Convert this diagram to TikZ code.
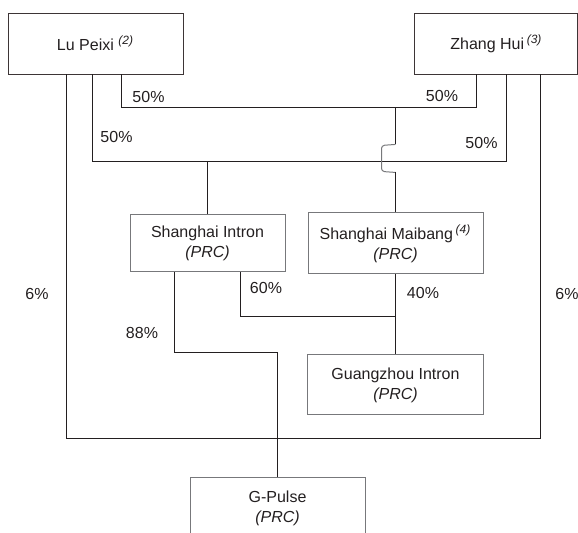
\documentclass[tikz,border=0pt]{standalone}
\usepackage{fontspec}
\setmainfont{Liberation Sans}
\usetikzlibrary{positioning}

\definecolor{linecol}{HTML}{231F20}
\definecolor{topcol}{HTML}{3D3536}
\definecolor{boxcol}{HTML}{77787B}
\definecolor{textcol}{HTML}{231F20}

\begin{document}
\begin{tikzpicture}[
        x=0.5pt, y=-0.5pt,
        owner_node/.style={draw=topcol, rectangle, minimum height=30.5pt, align=center, inner sep=0pt, line width=0.45pt, text=textcol, font=\fontsize{8}{10}\selectfont},
        company_node/.style={draw=boxcol, rectangle, minimum height=30.5pt, align=center, inner sep=0pt, line width=0.5pt, text=textcol, font=\fontsize{8}{10}\selectfont},
        link/.style={draw=linecol, line width=0.45pt},
        hop/.style={draw=boxcol, line width=0.5pt},
        pct/.style={font=\fontsize{8}{10}\selectfont, text=textcol}
    ]
        \useasboundingbox (0,0) rectangle (578,533);

        % Nodes
        \node (lupeixi) [owner_node, minimum width=87.5pt] at (95.5,43.5) {Lu Peixi \textsuperscript{\itshape (2)}};
        \node (zhanghui) [owner_node, minimum width=81.5pt, right=115.5pt of lupeixi] {Zhang Hui\,\textsuperscript{\itshape (3)}};
        \node (intron) [company_node, minimum width=77.5pt, minimum height=28.5pt] at (207.5,243.5) {Shanghai Intron\\\itshape (PRC)};
        \node (maibang) [company_node, minimum width=87.5pt, right=11pt of intron] {Shanghai Maibang\,\textsuperscript{\itshape (4)}\\\itshape (PRC)};
        \node (guangzhou) [company_node, minimum width=88pt, minimum height=30pt, below=40pt of maibang] {Guangzhou Intron\\\itshape (PRC)};
        \node (gpulse) [company_node, minimum width=87.5pt] at (277.5,508.5) {G-Pulse\\\itshape (PRC)};

        % Lines
        \draw [link] ([xshift=-14.75pt]lupeixi.south) -- ++(0,364) -| ([xshift=22pt]zhanghui.south);
        \draw [link] ([xshift=12.75pt]lupeixi.south) -- ++(0,33) coordinate (upbar) -| ([xshift=-9.75pt]zhanghui.south);
        \draw [link] ([xshift=-1.75pt]lupeixi.south) -- ++(0,87) coordinate (lowbar) -| ([xshift=5.25pt]zhanghui.south);
        \draw [link] (intron.north) -- (intron.north |- lowbar);
        \draw [link] (maibang.north |- upbar) -- ++(0,37) coordinate (hoptop);
        \draw [hop, rounded corners=1.5pt] (hoptop) -- ++(-14,1) -- ++(0,26) -- ++(14,1);
        \draw [link] ([yshift=-14pt]hoptop) -- (maibang.north);
        \draw [link] ([xshift=-16.75pt]intron.south) -- ++(0,80) -| (gpulse.north);
        \draw [link] ([xshift=16.25pt]intron.south) -- ++(0,44) coordinate (midbar) -- (maibang.south |- midbar);
        \draw [link] (maibang.south) -- (guangzhou.north);

        % Percentages
        \node (lu_up) [pct] at (148.5,97) {50\%};
        \node (lu_low) [pct] at (116.5,137) {50\%};
        \node (zh_up) [pct] at (442,96) {50\%};
        \node (zh_low) [pct] at (481.5,143) {50\%};
        \node (lu_g) [pct] at (37,294) {6\%};
        \node (zh_g) [pct] at (567,294) {6\%};
        \node (in_g) [pct] at (142,333) {88\%};
        \node (in_gz) [pct] at (266,288) {60\%};
        \node (mb_gz) [pct] at (423,293) {40\%};
    \end{tikzpicture}
\end{document}
